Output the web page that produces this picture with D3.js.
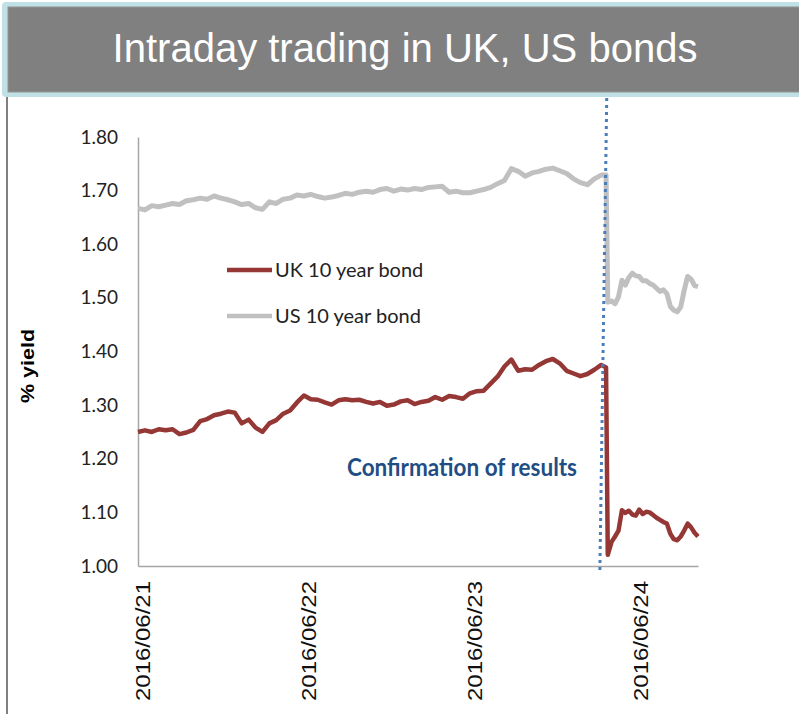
<!DOCTYPE html>
<html>
<head>
<meta charset="utf-8">
<script src="https://cdn.jsdelivr.net/npm/d3@7"></script>
<style>
	body { margin: 0; background: #fff; }
	svg { display: block; }
</style>
</head>
<body>
<script>
// hours since 2016/06/21 00:00 (finer steps after the result came in)
const hours = [0, 1, 2, 3, 4, 5, 6, 7, 8, 9,
	10, 11, 12, 13, 14, 15, 16, 17, 18, 19,
	20, 21, 22, 23, 24, 25, 26, 27, 28, 29,
	30, 31, 32, 33, 34, 35, 36, 37, 38, 39,
	40, 41, 42, 43, 44, 45, 46, 47, 48, 49,
	50, 51, 52, 53, 54, 55, 56, 57, 58, 59,
	60, 61, 62, 63, 64, 65, 66, 67, 67.7, 67.95,
	68.5, 69, 69.5, 70, 70.5, 71, 71.5, 72, 72.5, 73,
	73.5, 74, 74.5, 75, 75.5, 76, 76.5, 77, 77.5, 78,
	78.5, 79, 79.5, 80, 80.5, 81];

const ukYield = [1.250, 1.253, 1.250, 1.255, 1.253, 1.255, 1.246, 1.249, 1.254, 1.270,
	1.274, 1.281, 1.284, 1.288, 1.286, 1.266, 1.273, 1.258, 1.250, 1.266,
	1.272, 1.284, 1.290, 1.305, 1.318, 1.311, 1.310, 1.305, 1.301, 1.309,
	1.311, 1.309, 1.310, 1.306, 1.303, 1.306, 1.299, 1.301, 1.307, 1.309,
	1.302, 1.306, 1.308, 1.315, 1.310, 1.317, 1.315, 1.312, 1.322, 1.326,
	1.327, 1.340, 1.353, 1.372, 1.385, 1.364, 1.367, 1.366, 1.375, 1.382,
	1.386, 1.378, 1.364, 1.359, 1.354, 1.358, 1.366, 1.375, 1.370, 1.021,
	1.045, 1.055, 1.066, 1.104, 1.099, 1.103, 1.096, 1.094, 1.105, 1.097,
	1.101, 1.100, 1.095, 1.090, 1.086, 1.082, 1.079, 1.060, 1.050, 1.048,
	1.055, 1.066, 1.079, 1.072, 1.062, 1.055];

const usYield = [1.667, 1.664, 1.672, 1.670, 1.673, 1.676, 1.674, 1.681, 1.683, 1.686,
	1.684, 1.690, 1.686, 1.683, 1.679, 1.674, 1.676, 1.668, 1.665, 1.679,
	1.676, 1.684, 1.686, 1.692, 1.690, 1.693, 1.689, 1.686, 1.688, 1.691,
	1.695, 1.693, 1.697, 1.699, 1.697, 1.702, 1.704, 1.699, 1.703, 1.701,
	1.704, 1.702, 1.706, 1.707, 1.708, 1.697, 1.699, 1.696, 1.696, 1.699,
	1.702, 1.706, 1.713, 1.719, 1.741, 1.736, 1.727, 1.733, 1.736, 1.740,
	1.742, 1.737, 1.732, 1.722, 1.715, 1.711, 1.722, 1.729, 1.729, 1.492,
	1.494, 1.489, 1.502, 1.533, 1.524, 1.538, 1.546, 1.541, 1.540, 1.532,
	1.532, 1.527, 1.524, 1.518, 1.512, 1.515, 1.508, 1.484, 1.477, 1.474,
	1.483, 1.514, 1.540, 1.535, 1.523, 1.521];

const yTicks = [1.00, 1.10, 1.20, 1.30, 1.40, 1.50, 1.60, 1.70, 1.80];
const dayTicks = [0, 24, 48, 72];
const dayLabels = ['2016/06/21', '2016/06/22', '2016/06/23', '2016/06/24'];
const seriesNames = ['UK 10 year bond', 'US 10 year bond'];
const resultsHours = [67.8, 66.8]; // dotted marker, top and bottom (drawn a bit slanted like the original)

const width = 799, height = 714;
const colors = {uk: '#953735', us: '#c0c0c0', axis: '#a6a6a6', note: '#1f4e84', marker: '#4a7ebb'};

var svg = d3.select('body').append('svg')
	.attr('width', width)
	.attr('height', height);

// title banner
svg.append('rect')
	.attr('x', 2).attr('y', 2)
	.attr('width', 806).attr('height', 95)
	.attr('rx', 4)
	.attr('fill', '#bfe1e5');
svg.append('rect')
	.attr('x', 8).attr('y', 7)
	.attr('width', 800).attr('height', 85)
	.attr('fill', '#808080')
	.attr('stroke', '#949494');
svg.append('text')
	.attr('x', 405).attr('y', 62)
	.attr('text-anchor', 'middle')
	.attr('fill', '#fff')
	.style('font-family', '"Liberation Sans", Arial, sans-serif')
	.style('font-size', '40px')
	.text('Intraday trading in UK, US bonds');

// thin frame line on the left
svg.append('line')
	.attr('x1', 7).attr('x2', 7)
	.attr('y1', 97).attr('y2', height)
	.attr('stroke', '#808080')
	.attr('stroke-width', 2);

var x = d3.scaleLinear().domain([0, 81]).range([138, 698]);
var y = d3.scaleLinear().domain([1.0, 1.8]).range([566, 137]);

// y axis, no tick marks, labels only
var yAxis = svg.append('g')
	.attr('transform', 'translate(138,0)')
	.call(d3.axisLeft(y).tickValues(yTicks).tickSize(0).tickPadding(20).tickFormat(d3.format('.2f')));
yAxis.select('.domain').attr('stroke', colors.axis).attr('stroke-width', 1.5);
yAxis.selectAll('text')
	.attr('fill', '#222')
	.style('font-family', 'Lato, "Open Sans", sans-serif')
	.style('font-size', '19px');

// x axis line, labels drawn by hand since they sit rotated
var xAxis = svg.append('g')
	.attr('transform', 'translate(0,566)')
	.call(d3.axisBottom(x).tickValues(dayTicks).tickSize(0).tickFormat(''));
xAxis.select('.domain').attr('stroke', colors.axis).attr('stroke-width', 1.5);

svg.selectAll('.day-label')
	.data(dayTicks)
	.enter().append('text')
	.attr('class', 'day-label')
	.attr('transform', function(d) { return 'translate(' + (x(d) + 12) + ',581) rotate(-90)'; })
	.attr('text-anchor', 'end')
	.attr('textLength', 120)
	.attr('lengthAdjust', 'spacingAndGlyphs')
	.attr('fill', '#111')
	.style('font-family', '"Liberation Sans", Arial, sans-serif')
	.style('font-size', '19.5px')
	.text(function(d, i) { return dayLabels[i]; });

svg.append('text')
	.attr('transform', 'translate(34,366) rotate(-90)')
	.attr('text-anchor', 'middle')
	.attr('textLength', 74)
	.attr('lengthAdjust', 'spacingAndGlyphs')
	.attr('fill', '#000')
	.style('font-family', '"Liberation Sans", Arial, sans-serif')
	.style('font-weight', 'bold')
	.style('font-size', '18px')
	.text('% yield');

var line = d3.line()
	.x(function(d) { return x(d[0]); })
	.y(function(d) { return y(d[1]); });

svg.append('path')
	.datum(d3.zip(hours, usYield))
	.attr('fill', 'none')
	.attr('stroke', colors.us)
	.attr('stroke-width', 5)
	.attr('stroke-linejoin', 'round')
	.attr('d', line);

svg.append('path')
	.datum(d3.zip(hours, ukYield))
	.attr('fill', 'none')
	.attr('stroke', colors.uk)
	.attr('stroke-width', 4.5)
	.attr('stroke-linejoin', 'round')
	.attr('d', line);

// dotted line where the result was confirmed
svg.append('line')
	.attr('x1', x(resultsHours[0])).attr('y1', 98)
	.attr('x2', x(resultsHours[1])).attr('y2', 574)
	.attr('stroke', colors.marker)
	.attr('stroke-width', 3)
	.attr('stroke-dasharray', '3,4');

svg.append('text')
	.attr('x', 462).attr('y', 476)
	.attr('text-anchor', 'middle')
	.attr('textLength', 230)
	.attr('lengthAdjust', 'spacingAndGlyphs')
	.attr('fill', colors.note)
	.style('font-family', 'Lato, "Open Sans", sans-serif')
	.style('font-weight', 'bold')
	.style('font-size', '24px')
	.text('Confirmation of results');

// legend
var legend = svg.selectAll('.legend')
	.data(seriesNames)
	.enter().append('g')
	.attr('class', 'legend')
	.attr('transform', function(d, i) { return 'translate(227,' + (270 + i * 46) + ')'; });

legend.append('line')
	.attr('x1', 0).attr('x2', 45)
	.attr('stroke', function(d, i) { return i == 0 ? colors.uk : colors.us; })
	.attr('stroke-width', 4.5);

legend.append('text')
	.attr('x', 48).attr('dy', '0.35em')
	.attr('fill', '#222')
	.style('font-family', 'Lato, "Open Sans", sans-serif')
	.style('font-size', '20px')
	.text(function(d) { return d; });
</script>
</body>
</html>
